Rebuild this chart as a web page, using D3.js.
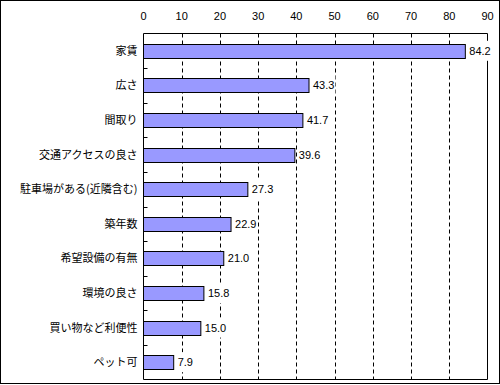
<!DOCTYPE html>
<html><head><meta charset="utf-8">
<script src="https://d3js.org/d3.v7.min.js"></script>
<style>body{margin:0;background:#fff}svg{display:block}text{font-family:"Noto Sans CJK JP","Noto Sans",sans-serif;font-size:11px;fill:#000}text.num{font-family:"Liberation Sans","Noto Sans",sans-serif;font-size:11px}</style>
</head><body><svg id="c" width="500" height="385"></svg>
<script>
const categories = ["家賃","広さ","間取り","交通アクセスの良さ","駐車場がある(近隣含む)","築年数","希望設備の有無","環境の良さ","買い物など利便性","ペット可"];
const values = [84.2,43.3,41.7,39.6,27.3,22.9,21.0,15.8,15.0,7.9];
const ticks = [0,10,20,30,40,50,60,70,80,90];

const svg = d3.select("#c");
const L=143.5, R=487.5, T=33.5, B=379.5;
svg.append("rect").attr("x",0.5).attr("y",0.5).attr("width",499).attr("height",383).attr("fill","#fff").attr("stroke","#000");
const x = d3.scaleLinear().domain([0,90]).range([L,R]);
const y = d3.scaleBand().domain(categories).range([T,B]).paddingInner(0.6).paddingOuter(0.3);
const yb = d3.scaleBand().domain(categories).range([T,B]);

// gridlines
svg.append("g").selectAll("line").data(ticks.slice(1,-1)).join("line")
  .attr("x1",d=>Math.round(x(d))+0.5).attr("x2",d=>Math.round(x(d))+0.5).attr("y1",T).attr("y2",B)
  .attr("stroke","#000").attr("stroke-dasharray","4,3");
// plot border
svg.append("path").attr("d",`M${L},${B}V${T}H${R}V${B}H${L}`).attr("fill","none").attr("stroke","#000");
// top axis labels
svg.append("g").selectAll("text").data(ticks).join("text").attr("class","num")
  .attr("x",d=>x(d)).attr("y",20).attr("text-anchor","middle").text(d=>d);
// category ticks
svg.append("g").selectAll("line").data(categories.slice(1)).join("line")
  .attr("x1",L).attr("x2",L+4).attr("y1",d=>Math.round(yb(d))+0.5).attr("y2",d=>Math.round(yb(d))+0.5).attr("stroke","#000");
// bars
svg.append("g").selectAll("rect").data(values).join("rect")
  .attr("x",L).attr("y",(d,i)=>Math.round(y(categories[i]))+0.5)
  .attr("width",d=>x(d)-L).attr("height",Math.round(y.bandwidth()))
  .attr("fill","#9999FF").attr("stroke","#000");
// value labels with white background
const lg = svg.append("g");
values.forEach((d,i)=>{
  const cy = y(categories[i])+y.bandwidth()/2;
  const bg = lg.append("rect").attr("fill","#fff");
  const t = lg.append("text").attr("class","num").attr("x",x(d)+4).attr("y",cy+4).text(d.toFixed(1));
  const bb = t.node().getBBox();
  bg.attr("x",bb.x-1).attr("y",cy-10).attr("width",bb.width+2).attr("height",20);
});
// category labels
svg.append("g").selectAll("text").data(categories).join("text")
  .attr("x",L-6).attr("y",d=>y(d)+y.bandwidth()/2+4).attr("text-anchor","end").text(d=>d);
</script></body></html>
